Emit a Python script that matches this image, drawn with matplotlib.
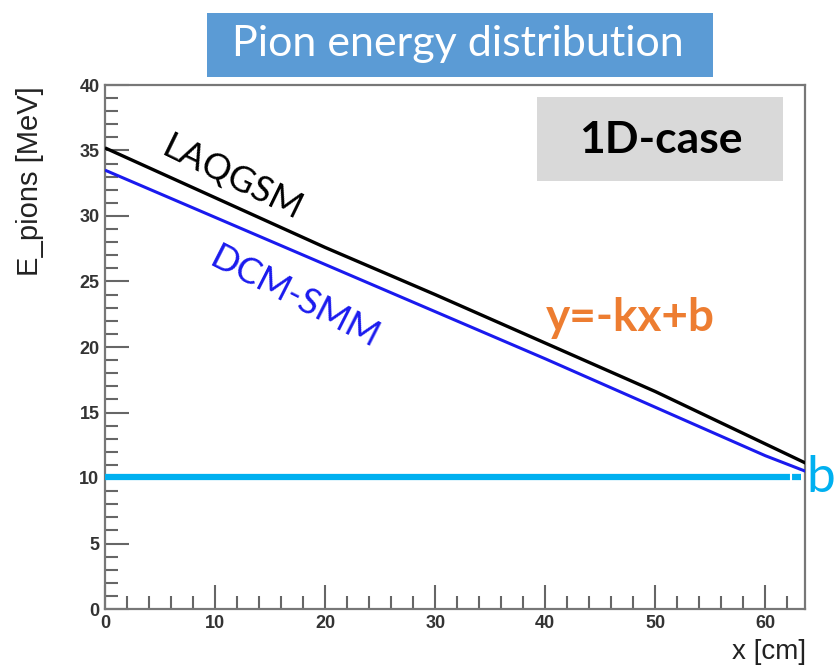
import matplotlib
matplotlib.use("Agg")
import matplotlib.pyplot as plt
from matplotlib.ticker import MultipleLocator
from matplotlib.patches import Rectangle

# Mean pion energy along the target depth
x_cm = [0, 10, 20, 30, 40, 50, 60, 64]
e_laqgsm = [35.2, 31.4, 27.6, 24.0, 20.3, 16.6, 12.6, 11.0]
e_dcmsmm = [33.5, 29.9, 26.3, 22.7, 19.1, 15.4, 11.7, 10.4]
b_level = 10.1
b_x = [0, 63.2]

fig = plt.figure(figsize=(8.38, 6.70), dpi=100)
ax = fig.add_axes([105/838, 1-609/670, 700/838, 524/670])

ax.plot(x_cm, e_laqgsm, color="black", lw=2.4, solid_capstyle="butt", zorder=3)
ax.plot(x_cm, e_dcmsmm, color="#1a1aee", lw=2.2, solid_capstyle="butt", zorder=3)
ax.plot(b_x, [b_level, b_level], color="#00B0F0", lw=4.5, solid_capstyle="butt", zorder=4)
# small break mark near the right end of the level line
ax.plot([62.3, 62.3], [b_level - 0.45, b_level + 0.6], color="white", lw=1.5, zorder=5)

ax.set_xlim(0, 63.6)
ax.set_ylim(0, 40)
ax.xaxis.set_major_locator(MultipleLocator(10))
ax.xaxis.set_minor_locator(MultipleLocator(2))
ax.yaxis.set_major_locator(MultipleLocator(5))
ax.yaxis.set_minor_locator(MultipleLocator(1))
ax.tick_params(which="both", direction="in", color="#666666", width=1.5)
ax.tick_params(which="major", length=17, labelsize=13, labelcolor="#333333", pad=4)
ax.tick_params(which="minor", length=9.5)
ax.tick_params(top=False, right=False)
for lab in ax.get_xticklabels() + ax.get_yticklabels():
    lab.set_family("Liberation Sans")
    lab.set_fontweight("bold")
for s in ax.spines.values():
    s.set_color("#777777")
    s.set_linewidth(1.6)

fig.text(30/838, 1-86/670, "E_pions [MeV]", rotation=90, ha="center", va="top",
         fontsize=21, color="#222222", family="Liberation Sans")
fig.text(806/838, 1-652/670, "x [cm]", ha="right", va="center",
         fontsize=20, color="#222222", family="Liberation Sans")

# Title banner
fig.patches.append(Rectangle((207/838, 1-77/670), 506/838, 64/670,
                             transform=fig.transFigure, facecolor="#5B9BD5",
                             edgecolor="none"))
fig.text(458/838, 1-44/670, "Pion energy distribution", ha="center", va="center",
         fontsize=31, color="white", family="Lato")

# Case label box
fig.patches.append(Rectangle((537/838, 1-181/670), 246/838, 84/670,
                             transform=fig.transFigure, facecolor="#D9D9D9",
                             edgecolor="none", zorder=5))
fig.text(661/838, 1-140/670, "1D-case", ha="center", va="center",
         fontsize=32, fontweight="bold", color="black", family="Lato", zorder=6)

fig.text(232/838, 1-178/670, "LAQGSM", ha="center", va="center", rotation=-26,
         fontsize=26, color="black", family="Lato")
fig.text(295/838, 1-298/670, "DCM-SMM", ha="center", va="center", rotation=-27,
         fontsize=26, color="#1a1aee", family="Lato")
fig.text(630/838, 1-318/670, "y=-kx+b", ha="center", va="center",
         fontsize=33, fontweight="bold", color="#ED7D31", family="Lato")
fig.text(821/838, 1-478/670, "b", ha="center", va="center",
         fontsize=37, color="#00B0F0", family="Lato")

fig.savefig("out.png", dpi=100)
